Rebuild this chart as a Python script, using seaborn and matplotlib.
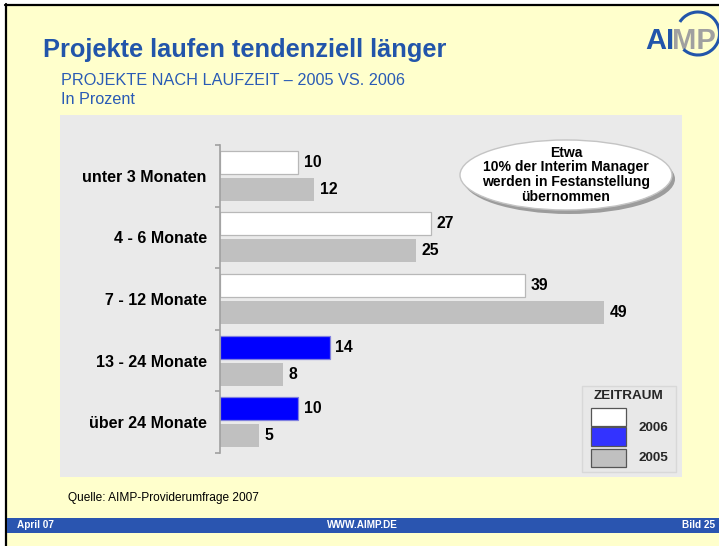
import matplotlib
matplotlib.use('Agg')
import matplotlib.pyplot as plt
import seaborn as sns
import pandas as pd
import numpy as np
from matplotlib.patches import Rectangle, Ellipse, Arc
from matplotlib.lines import Line2D

# ---------------- data ----------------
categories = ['unter 3 Monaten', '4 - 6 Monate', '7 - 12 Monate', '13 - 24 Monate', 'über 24 Monate']
years = ['2006', '2005']
values_2006 = [10, 27, 39, 14, 10]
values_2005 = [12, 25, 49, 8, 5]
colors_2006 = ['#FFFFFF', '#FFFFFF', '#FFFFFF', '#0000FF', '#0000FF']
color_2005 = '#C0C0C0'
legend_title = 'ZEITRAUM'
legend_colors = ['#FFFFFF', '#3333FF', '#C0C0C0']
title = 'Projekte laufen tendenziell länger'
subtitle = 'PROJEKTE NACH LAUFZEIT – 2005 VS. 2006'
unit = 'In Prozent'
source = 'Quelle: AIMP-Providerumfrage 2007'
callout_lines = ['Etwa', '10% der Interim Manager', 'werden in Festanstellung', 'übernommen']
footer_left, footer_mid, footer_right = 'April 07', 'WWW.AIMP.DE', 'Bild 25'

W, H = 719, 546
sns.set_theme(style='white')
plt.rcParams['font.family'] = ['Liberation Sans', 'DejaVu Sans']

fig = plt.figure(figsize=(W / 100, H / 100), dpi=100)
fig.patch.set_facecolor('white')


def fx(x):
    return x / W


def fy(y):
    return 1 - y / H


def frect(x0, y0, x1, y1, **kw):
    r = Rectangle((fx(x0), fy(y1)), (x1 - x0) / W, (y1 - y0) / H,
                  transform=fig.transFigure, **kw)
    fig.add_artist(r)
    return r


def ftext(x, y, s, **kw):
    return fig.text(fx(x), fy(y), s, **kw)


# slide background and frame
frect(5, 4, W + 2, H + 2, facecolor='#FFFFCC', edgecolor='none', zorder=-10)
fig.add_artist(Line2D([fx(5), fx(W + 2)], [fy(5), fy(5)], color='black', lw=1.6,
                      transform=fig.transFigure, zorder=-9))
fig.add_artist(Line2D([fx(6), fx(6)], [fy(4), fy(H + 2)], color='black', lw=1.6,
                      transform=fig.transFigure, zorder=-9))

# plot area background
frect(60, 115, 682, 477, facecolor='#EAEAEA', edgecolor='none', zorder=-5)

# footer band
frect(7, 518, W + 2, 533, facecolor='#2A55B0', edgecolor='none', zorder=-5)

# ---------------- chart ----------------
ax = fig.add_axes([fx(220), fy(453), (682 - 220) / W, (453 - 145) / H])
ax.set_facecolor('none')

df = pd.DataFrame({
    'Kategorie': categories * 2,
    'Jahr': [years[0]] * len(categories) + [years[1]] * len(categories),
    'Wert': values_2006 + values_2005,
})

sns.barplot(data=df, y='Kategorie', x='Wert', hue='Jahr', hue_order=years,
            order=categories, palette={years[0]: '#FFFFFF', years[1]: color_2005},
            width=0.88, gap=0.15, orient='h', saturation=1, legend=False, ax=ax)

for bar, col in zip(ax.containers[0], colors_2006):
    bar.set_facecolor(col)
    bar.set_edgecolor('#B8B8B8' if col == '#FFFFFF' else '#8080E0')
    bar.set_linewidth(0.9)
for bar in ax.containers[1]:
    bar.set_edgecolor('none')

for c in ax.containers:
    ax.bar_label(c, padding=4, fontsize=11.3, fontweight='bold', color='black')

ax.set_xlim(0, 59)
ax.set_ylim(len(categories) - 0.5, -0.5)
ax.set_xlabel('')
ax.set_ylabel('')
ax.set_xticks([])
for s in ['top', 'right', 'bottom']:
    ax.spines[s].set_visible(False)
ax.spines['left'].set_color('#A0A0A0')
ax.spines['left'].set_linewidth(1.2)
ax.tick_params(axis='y', which='major', length=0, pad=9.5, labelsize=11.5, labelcolor='black')
for t in ax.get_yticklabels():
    t.set_fontweight('bold')
ax.set_yticks(np.arange(-0.5, len(categories), 1), minor=True)
ax.tick_params(axis='y', which='minor', left=True, length=3.8, width=1.2, color='#A0A0A0')

# ---------------- titles ----------------
blue = '#2255AA'
ftext(43, 57, title, fontsize=18.3, fontweight='bold', color=blue, va='baseline')
ftext(61, 84.7, subtitle, fontsize=11.7, color='#2A5BB5', va='baseline')
ftext(61, 104, unit, fontsize=11.7, color='#2A5BB5', va='baseline')

# logo
ftext(645, 49, 'AI', fontsize=21, fontweight='bold', color=blue, va='baseline')
ftext(672, 49, 'MP', fontsize=21, fontweight='bold', color='#A0A0A0', va='baseline')
fig.add_artist(Arc((fx(698), fy(33.5)), 43 / W, 43 / H, theta1=-125, theta2=140,
                   color=blue, lw=2.2, transform=fig.transFigure, zorder=6))

# callout ellipse
fig.add_artist(Ellipse((fx(569), fy(179)), 212 / W, 70 / H, facecolor='#9C9C9C',
                       edgecolor='none', transform=fig.transFigure, zorder=4))
fig.add_artist(Ellipse((fx(566), fy(175)), 212 / W, 70 / H, facecolor='#FFFFFF',
                       edgecolor='#C4C4C4', lw=1, transform=fig.transFigure, zorder=5))
for yy, line in zip([152.7, 166.7, 182, 197], callout_lines):
    ftext(566, yy, line, fontsize=10.1, fontweight='bold', color='black',
          ha='center', va='center', zorder=6)

# legend
frect(582, 386, 676, 472, facecolor='#E8E8E8', edgecolor='#D8D8D8', lw=1, zorder=5)
ftext(628, 396, legend_title, fontsize=9.7, fontweight='bold', ha='center', va='center', zorder=6)
frect(591, 408, 626, 426, facecolor=legend_colors[0], edgecolor='#555555', lw=0.9, zorder=6)
frect(591, 427, 626, 445.5, facecolor=legend_colors[1], edgecolor='#555555', lw=0.9, zorder=6)
frect(591, 449, 626, 467, facecolor=legend_colors[2], edgecolor='#555555', lw=0.9, zorder=6)
ftext(653, 428, years[0], fontsize=9.7, fontweight='bold', ha='center', va='center', zorder=6)
ftext(653, 458, years[1], fontsize=9.7, fontweight='bold', ha='center', va='center', zorder=6)

# source and footer
ftext(68, 498, source, fontsize=8.6, color='black', va='center')
ftext(17, 525.5, footer_left, fontsize=7.2, fontweight='bold', color='white', va='center')
ftext(362, 525.5, footer_mid, fontsize=7.2, fontweight='bold', color='white', ha='center', va='center')
ftext(715, 525.5, footer_right, fontsize=7.2, fontweight='bold', color='white', ha='right', va='center')

fig.savefig('out.png', dpi=100, facecolor=fig.get_facecolor())
